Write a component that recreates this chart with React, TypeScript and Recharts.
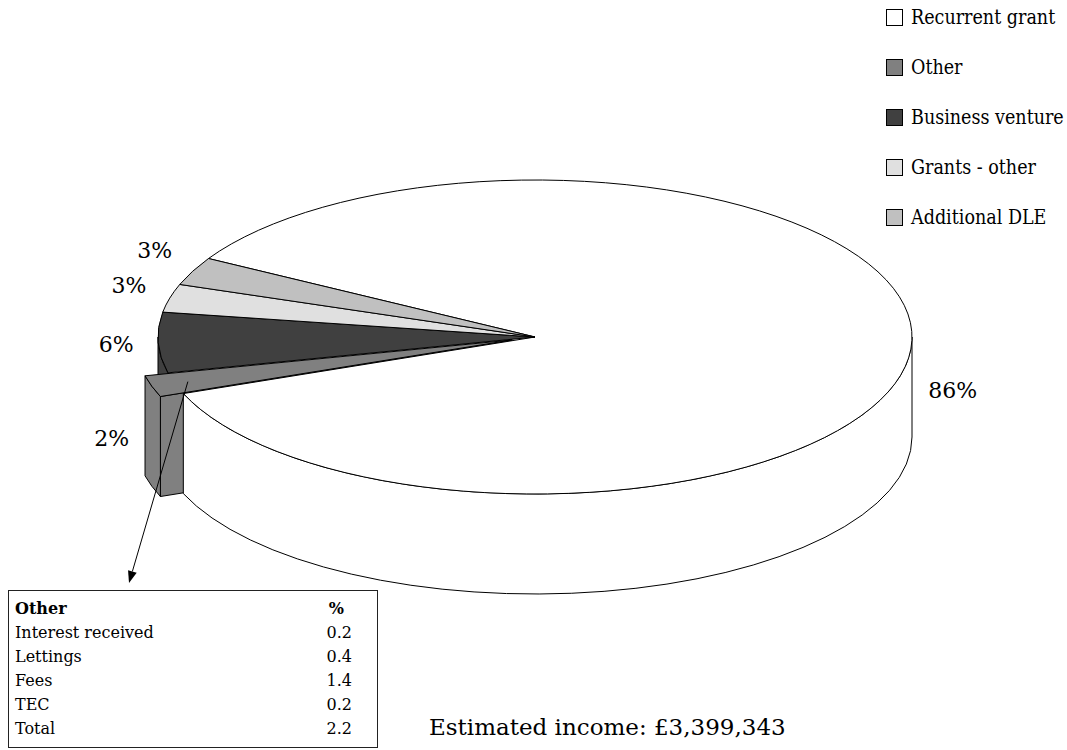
import React from 'react';
import { PieChart, Pie, Legend } from 'recharts';

// slices, in the order the chart draws them (clockwise)
const categories = ['Recurrent grant', 'Other', 'Business venture', 'Grants - other', 'Additional DLE'];
const shares = [85.8, 2.2, 6.2, 2.9, 2.9];
const colors = ['#ffffff', '#808080', '#404040', '#e0e0e0', '#c0c0c0'];
const explodedName = 'Other';

// breakdown of "Other"
const otherItems = ['Interest received', 'Lettings', 'Fees', 'TEC', 'Total'];
const otherValues = ['0.2', '0.4', '1.4', '0.2', '2.2'];
const incomeText = 'Estimated income: £3,399,343';

const W = 1067;
const H = 750;
const CX = 535;
const CY = 337;
const RX = 377;
const TILT = 157 / 377;
const DEPTH = 100;
const EXPLODE = 24;
const START = 150;
const ARROW_TIP = { x: 129, y: 583 };
const RAD = Math.PI / 180;
const SERIF = '"DejaVu Serif", serif';

const data = categories.map((name, i) => ({ name, value: shares[i] }));

// depth (how far toward the viewer) of the exploded slice, used for drawing order
const explodedMid = (() => {
  const total = shares.reduce((a, b) => a + b, 0);
  let acc = 0;
  for (let i = 0; i < categories.length; i++) {
    if (categories[i] === explodedName) return START - (360 * (acc + shares[i] / 2)) / total;
    acc += shares[i];
  }
  return 0;
})();
const explodedDepth = -Math.sin(explodedMid * RAD);

function geo(p: any) {
  const s = p.startAngle;
  const e = p.endAngle;
  const mid = (s + e) / 2;
  const rx = p.outerRadius;
  const ry = rx * TILT;
  const name = p.name ?? p.payload?.name;
  const exploded = name === explodedName;
  const x0 = p.cx + (exploded ? EXPLODE * Math.cos(mid * RAD) : 0);
  const y0 = p.cy + (exploded ? -EXPLODE * TILT * Math.sin(mid * RAD) : 0);
  const pt = (a: number, dy = 0) => [x0 + rx * Math.cos(a * RAD), y0 - ry * Math.sin(a * RAD) + dy];
  return { s, e, mid, rx, ry, exploded, x0, y0, pt, fill: colors[categories.indexOf(name)] };
}

function frontRanges(s: number, e: number) {
  const lo = Math.min(s, e);
  const hi = Math.max(s, e);
  const out: number[][] = [];
  for (let k = -3; k <= 2; k++) {
    const a = Math.max(lo, 180 + 360 * k);
    const b = Math.min(hi, 360 + 360 * k);
    if (b - a > 0.01) out.push([a, b]);
  }
  return out;
}

function topPath(g: any) {
  const [sx, sy] = g.pt(g.s);
  const [ex, ey] = g.pt(g.e);
  const large = Math.abs(g.e - g.s) > 180 ? 1 : 0;
  const sweep = g.s > g.e ? 1 : 0;
  return `M${g.x0},${g.y0} L${sx},${sy} A${g.rx},${g.ry} 0 ${large} ${sweep} ${ex},${ey} Z`;
}

function wallPath(g: any, a: number, b: number) {
  const [bx, by] = g.pt(b);
  const [ax, ay] = g.pt(a);
  return `M${bx},${by} A${g.rx},${g.ry} 0 0 1 ${ax},${ay} L${ax},${ay + DEPTH} A${g.rx},${g.ry} 0 0 0 ${bx},${by + DEPTH} Z`;
}

const line = { stroke: '#000', strokeWidth: 1 };

const sliceShape = (layer: string) => (props: any) => {
  const g = geo(props);
  const parts: any[] = [];

  if ((layer === 'wallsBack' || layer === 'wallsFront') && !g.exploded) {
    frontRanges(g.s, g.e).forEach(([a, b], i) => {
      const isFront = -Math.sin(((a + b) / 2) * RAD) >= explodedDepth;
      if ((layer === 'wallsFront') === isFront) {
        parts.push(<path key={'w' + i} d={wallPath(g, a, b)} fill={g.fill} {...line} />);
      }
    });
  }

  if (layer === 'faces' && g.exploded) {
    [g.s, g.e].forEach((t: number, i: number) => {
      const n = g.mid < t ? t + 90 : t - 90;
      if (Math.sin(n * RAD) < 0) {
        const [px, py] = g.pt(t);
        const d = `M${g.x0},${g.y0} L${px},${py} L${px},${py + DEPTH} L${g.x0},${g.y0 + DEPTH} Z`;
        parts.push(<path key={'f' + i} d={d} fill={g.fill} {...line} />);
      }
    });
  }

  if (layer === 'tops' && !g.exploded) {
    parts.push(<path key="t" d={topPath(g)} fill={g.fill} {...line} />);
  }

  if (layer === 'exploded' && g.exploded) {
    frontRanges(g.s, g.e).forEach(([a, b], i) => {
      parts.push(<path key={'w' + i} d={wallPath(g, a, b)} fill={g.fill} {...line} />);
    });
    parts.push(<path key="t" d={topPath(g)} fill={g.fill} {...line} />);
    // callout arrow to the breakdown box
    const sx = g.x0 + 0.9 * g.rx * Math.cos(g.mid * RAD);
    const sy = g.y0 - 0.9 * g.ry * Math.sin(g.mid * RAD);
    const dx = ARROW_TIP.x - sx;
    const dy = ARROW_TIP.y - sy;
    const len = Math.hypot(dx, dy);
    const ux = dx / len;
    const uy = dy / len;
    const bx = ARROW_TIP.x - 12 * ux;
    const by = ARROW_TIP.y - 12 * uy;
    parts.push(<line key="al" x1={sx} y1={sy} x2={bx} y2={by} {...line} />);
    parts.push(
      <polygon
        key="ah"
        points={`${ARROW_TIP.x},${ARROW_TIP.y} ${bx - 4.5 * uy},${by + 4.5 * ux} ${bx + 4.5 * uy},${by - 4.5 * ux}`}
        fill="#000"
      />
    );
  }

  return <g>{parts}</g>;
};

const renderLabel = (p: any) => {
  const m = p.midAngle;
  const rx = p.outerRadius;
  const ry = rx * TILT;
  const sin = Math.sin(m * RAD);
  const cos = Math.cos(m * RAD);
  const exploded = p.name === explodedName;
  const x = p.cx + (rx + 42) * cos + (exploded ? EXPLODE * cos : 0);
  const y = p.cy - (ry + 50) * sin + (sin < -0.05 ? DEPTH * 0.37 : 0) + (exploded ? -EXPLODE * TILT * sin : 0);
  return (
    <text key={'lbl' + p.index} x={x} y={y} textAnchor="middle" dominantBaseline="central"
      fontFamily={SERIF} fontSize={22} fill="#000">
      {Math.round(p.percent * 100)}%
    </text>
  );
};

const LegendBox = () => (
  <div style={{ fontFamily: SERIF, fontStretch: 'condensed', fontSize: 19.5 }}>
    {categories.map((name, i) => (
      <div key={name} style={{ display: 'flex', alignItems: 'center', height: 50 }}>
        <div style={{ width: 15, height: 15, border: '1px solid #000', background: colors[i], marginRight: 8 }} />
        <span style={{ color: '#000' }}>{name}</span>
      </div>
    ))}
  </div>
);

const layers = ['wallsBack', 'faces', 'wallsFront', 'tops', 'exploded'];

export default function App() {
  return (
    <div style={{ position: 'absolute', left: 0, top: 0, width: W, height: H, background: '#fff' }}>
      <PieChart width={W} height={H} margin={{ top: 0, right: 0, bottom: 0, left: 0 }}>
        {layers.map((layer) => {
          const shape = sliceShape(layer);
          return (
            <Pie
              key={layer}
              data={data}
              dataKey="value"
              nameKey="name"
              cx={CX}
              cy={CY}
              outerRadius={RX}
              startAngle={START}
              endAngle={START - 360}
              stroke="none"
              isAnimationActive={false}
              shape={shape}
              inactiveShape={shape}
              activeShape={shape}
              label={layer === 'exploded' ? renderLabel : false}
              labelLine={false}
            />
          );
        })}
        <Legend
          layout="vertical"
          align="right"
          verticalAlign="top"
          content={() => <LegendBox />}
          wrapperStyle={{ left: 886, top: -8, right: 'auto', width: 181 }}
        />
      </PieChart>

      <div
        style={{
          position: 'absolute', left: 8, top: 590, width: 370, height: 158, boxSizing: 'border-box',
          border: '1px solid #222', padding: '6px 25px 0 6px', fontFamily: SERIF, fontSize: 16,
          lineHeight: '24px', color: '#000', background: '#fff',
        }}
      >
        <div style={{ display: 'flex', justifyContent: 'space-between', fontWeight: 'bold' }}>
          <span>Other</span>
          <span style={{ marginRight: 8 }}>%</span>
        </div>
        {otherItems.map((item, i) => (
          <div key={item} style={{ display: 'flex', justifyContent: 'space-between' }}>
            <span>{item}</span>
            <span>{otherValues[i]}</span>
          </div>
        ))}
      </div>

      <div style={{ position: 'absolute', left: 429, top: 716, fontFamily: SERIF, fontSize: 23, lineHeight: '23px', color: '#000', whiteSpace: 'nowrap' }}>
        {incomeText}
      </div>
    </div>
  );
}
